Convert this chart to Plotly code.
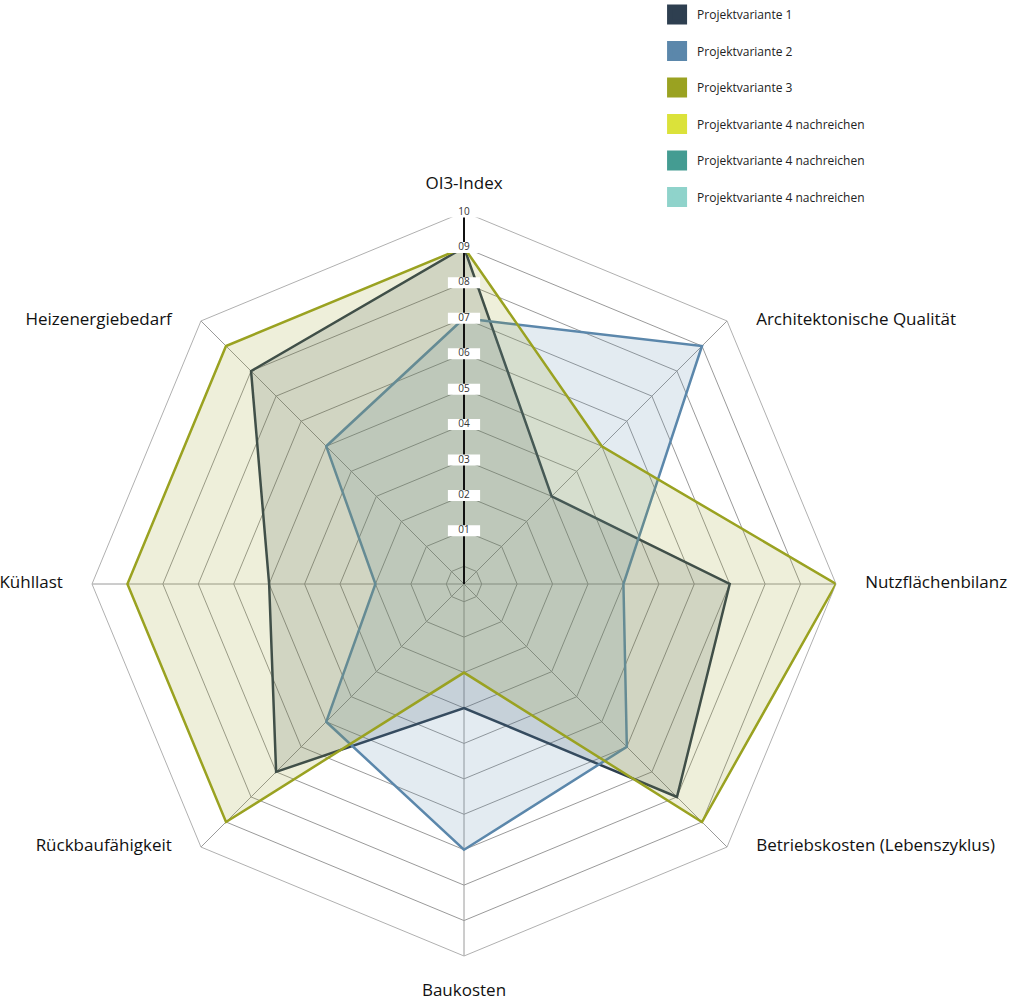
import plotly.graph_objects as go

categories = ["OI3-Index", "Architektonische Qualität", "Nutzflächenbilanz",
              "Betriebskosten (Lebenszyklus)", "Baukosten", "Rückbaufähigkeit",
              "Kühllast", "Heizenergiebedarf"]

variante1 = [9, 3, 7, 8, 3, 7, 5, 8]
variante2 = [7, 9, 4, 6, 7, 5, 2, 5]
variante3 = [9, 5, 10, 9, 2, 9, 9, 9]

series_names = ["Projektvariante 1", "Projektvariante 2", "Projektvariante 3",
                "Projektvariante 4 nachreichen", "Projektvariante 4 nachreichen",
                "Projektvariante 4 nachreichen"]
series_values = [variante1, variante2, variante3, [], [], []]

tick_values = [1, 2, 3, 4, 5, 6, 7, 8, 9, 10]
tick_labels = ["01", "02", "03", "04", "05", "06", "07", "08", "09", "10"]

# styles
line_colors = ["#2e3f50", "#5b87ab", "#9aa221", "#dbe23a", "#449c92", "#8fd3cb"]
fill_colors = ["rgba(46,63,80,0.16)", "rgba(91,135,171,0.17)", "rgba(154,162,33,0.17)",
               "rgba(219,226,58,0.17)", "rgba(68,156,146,0.17)", "rgba(143,211,203,0.17)"]
label_textpositions = ["top center", "middle right", "middle right", "middle right",
                       "bottom center", "middle left", "middle left", "middle left"]
label_pad_sizes = [28, 45, 45, 45, 42, 45, 45, 45]
R_MAX = 10

FONT = "Open Sans"

fig = go.Figure()

for name, vals, lc, fc in zip(series_names, series_values, line_colors, fill_colors):
    if vals:
        fig.add_trace(go.Scatterpolar(
            r=vals + vals[:1], theta=categories + categories[:1],
            mode="lines", fill="toself", fillcolor=fc,
            line=dict(color=lc, width=2.5), showlegend=False, hoverinfo="skip"))

# legend entries
for i, (name, lc) in enumerate(zip(series_names, line_colors)):
    fig.add_trace(go.Scatterpolar(
        r=[None], theta=[categories[0]], mode="markers", name=name,
        marker=dict(symbol="square", size=15, color=lc, line=dict(color=lc, width=5)),
        legendgroup="g%d" % i, showlegend=True))

# radial axis line (OI3 spoke) drawn beneath the tick label boxes
fig.add_trace(go.Scatterpolar(
    r=[-0.5, R_MAX], theta=[categories[0]] * 2, mode="lines",
    line=dict(color="#111111", width=2), showlegend=False, hoverinfo="skip"))

# tick label boxes
fig.add_trace(go.Scatterpolar(
    r=tick_values, theta=[categories[0]] * len(tick_values), mode="markers+text",
    text=tick_labels, textposition="middle center",
    textfont=dict(family=FONT, size=10, color="#333333"),
    marker=dict(symbol="line-ew", size=23, color="white", line=dict(color="white", width=11)),
    showlegend=False, hoverinfo="skip"))

# category labels at the outer vertices
fig.add_trace(go.Scatterpolar(
    r=[R_MAX] * len(categories), theta=categories, mode="markers+text",
    text=categories, textposition=label_textpositions,
    textfont=dict(family=FONT, size=17, color="#111111"),
    marker=dict(size=label_pad_sizes, opacity=0, color="white"),
    cliponaxis=False, showlegend=False, hoverinfo="skip"))

fig.update_layout(
    width=1014, height=1000,
    margin=dict(l=92, r=178, t=212, b=44, autoexpand=False),
    paper_bgcolor="white",
    font=dict(family=FONT, color="#222222"),
    polar=dict(
        bgcolor="white",
        gridshape="linear",
        domain=dict(x=[0, 1], y=[0, 1]),
        radialaxis=dict(range=[-0.5, R_MAX], tick0=0, dtick=1, showticklabels=False,
                        ticks="", showline=False, layer="below traces",
                        angle=90, gridcolor="#9a9a9a", gridwidth=1),
        angularaxis=dict(rotation=90, direction="clockwise", gridcolor="#9a9a9a",
                         showline=True, linecolor="#b0b0b0", linewidth=1,
                         layer="below traces", ticks="", showticklabels=False),
    ),
    legend=dict(xref="container", yref="container", x=0.648, y=1.011,
                xanchor="left", yanchor="top", tracegroupgap=17.5,
                font=dict(family=FONT, size=12, color="#222222"),
                bgcolor="rgba(0,0,0,0)"),
)

fig.write_html("out.html")
